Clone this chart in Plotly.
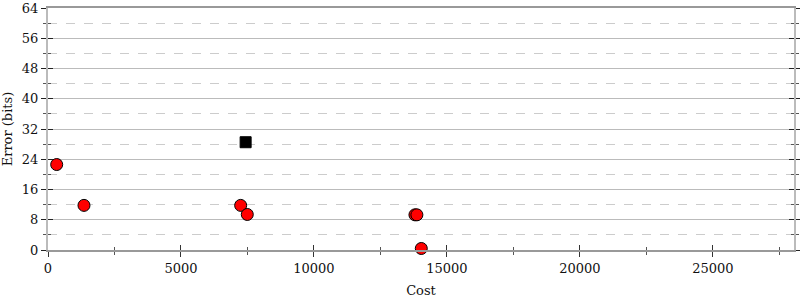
import plotly.graph_objects as go

cost = [327, 1353, 7244, 7493, 13797, 13870, 14036]
error = [22.6, 11.8, 11.8, 9.4, 9.3, 9.3, 0.4]
ref_cost = [7431]
ref_error = [28.5]

x_range = [0, 28050]
y_range = [0, 64]
x_ticks = [0, 5000, 10000, 15000, 20000, 25000]
y_ticks = [0, 8, 16, 24, 32, 40, 48, 56, 64]

font = dict(family="DejaVu Serif", size=13, color="#111")

fig = go.Figure()
fig.add_trace(go.Scatter(x=cost, y=error, mode="markers",
                         marker=dict(symbol="circle", size=12, color="red",
                                     line=dict(color="black", width=1)),
                         showlegend=False, cliponaxis=False))
fig.add_trace(go.Scatter(x=ref_cost, y=ref_error, mode="markers",
                         marker=dict(symbol="square", size=11, color="black",
                                     line=dict(color="black", width=1)),
                         showlegend=False))
fig.add_trace(go.Scatter(x=[None], y=[None], xaxis="x2", yaxis="y2", showlegend=False))

fig.update_layout(
    width=800, height=300,
    margin=dict(l=48, r=6, t=8, b=50, autoexpand=False),
    paper_bgcolor="white", plot_bgcolor="white",
    font=font,
    xaxis=dict(range=x_range, tickvals=x_ticks, ticktext=[str(v) for v in x_ticks],
               showgrid=False, zeroline=False, automargin=False,
               showline=True, linecolor="#999", linewidth=2, mirror=True,
               ticks="outside", ticklen=5, tickcolor="#333", tickwidth=1,
               minor=dict(dtick=2500, ticks="outside", ticklen=3, tickcolor="#555", showgrid=False),
               title=dict(text="Cost", font=font, standoff=11)),
    yaxis=dict(range=y_range, tickvals=y_ticks, ticktext=[str(v) for v in y_ticks],
               showgrid=True, gridcolor="#bbb", gridwidth=1, zeroline=False, automargin=False,
               showline=True, linecolor="#bbb", linewidth=2, mirror="ticks",
               ticks="outside", ticklen=5, tickcolor="#222", tickwidth=1,
               minor=dict(dtick=4, ticks="outside", ticklen=3, tickcolor="#555",
                          showgrid=True, gridcolor="#ccc", griddash="dash", gridwidth=1),
               title=dict(text="Error (bits)", font=font, standoff=8)),
    xaxis2=dict(range=x_range, overlaying="x", tickvals=x_ticks, automargin=False,
                showticklabels=False, showgrid=False, zeroline=False, showline=False,
                ticks="inside", ticklen=5, tickcolor="#333",
                minor=dict(dtick=2500, ticks="inside", ticklen=3, tickcolor="#555")),
    yaxis2=dict(range=y_range, overlaying="y", tickvals=y_ticks, showticklabels=False,
                automargin=False,
                showgrid=False, zeroline=False, showline=False, mirror="ticks",
                ticks="inside", ticklen=5, tickcolor="#222",
                minor=dict(dtick=4, ticks="inside", ticklen=3, tickcolor="#555")),
)
fig.write_html("out.html")
